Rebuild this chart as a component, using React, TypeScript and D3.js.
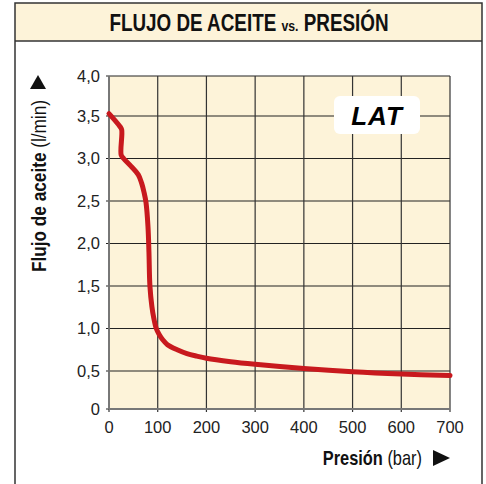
import React from "react";
import * as d3 from "d3";

const pressure = [0, 22, 26, 25, 30, 45, 60, 67, 72, 76, 80, 82, 84, 88, 92, 97, 103, 110, 120, 140, 160, 180, 200, 250, 300, 400, 500, 600, 700];
const flow = [3.53, 3.38, 3.34, 3.04, 3.0, 2.91, 2.81, 2.71, 2.6, 2.48, 2.2, 1.9, 1.5, 1.26, 1.12, 1.0, 0.93, 0.87, 0.81, 0.75, 0.705, 0.675, 0.65, 0.61, 0.58, 0.53, 0.49, 0.46, 0.44];
const xTicks = [0, 100, 200, 300, 400, 500, 600, 700];
const yTicks = [0, 0.5, 1, 1.5, 2, 2.5, 3, 3.5, 4];
const yTickLabels = ["0", "0,5", "1,0", "1,5", "2,0", "2,5", "3,0", "3,5", "4,0"];

const W = 486;
const H = 484;
const BEIGE = "#fdf3d9";
const RED = "#c8191e";
const SANS = "'Liberation Sans', Arial, Helvetica, sans-serif";
const NARROW_SCALE = 0.82;

export default function App() {
  const x = d3.scaleLinear().domain([0, 700]).range([109, 450]);
  const y = d3.scaleLinear().domain([0, 0.5, 3.5, 4]).range([409, 371, 116, 76]);
  const pts: [number, number][] = pressure.map((p, i) => [p, flow[i]]);
  const line = d3
    .line<[number, number]>()
    .x((d) => x(d[0]))
    .y((d) => y(d[1]))
    .curve(d3.curveCatmullRom.alpha(0.5));

  const x0 = x(0), x1 = x(700), y0 = y(0), y1 = y(4);

  return (
    <svg width={W} height={H} style={{ position: "absolute", left: 0, top: 0 }}>
      <rect x={0} y={0} width={W} height={H} fill="#fff" />
      {/* outer frame */}
      <rect x={15} y={3} width={467} height={38} fill={BEIGE} />
      <path d={`M15,${H + 5} L15,3 L482,3 L482,${H + 5}`} fill="none" stroke="#333" strokeWidth={1.5} />
      <line x1={15} x2={482} y1={41} y2={41} stroke="#333" strokeWidth={1.5} />
      <text transform={`translate(249,31) scale(${NARROW_SCALE},1)`} textAnchor="middle" fontFamily={SANS} fontWeight="bold" fontSize={23} fill="#111">
        FLUJO DE ACEITE <tspan fontSize={15}>vs.</tspan> PRESIÓN
      </text>

      {/* plot */}
      <rect x={x0} y={y1} width={x1 - x0} height={y0 - y1} fill={BEIGE} />
      {yTicks.map((t) => (
        <line key={"h" + t} x1={x0 - 3} x2={x1} y1={y(t)} y2={y(t)} stroke="#222" strokeWidth={1.1} />
      ))}
      {xTicks.map((t) => (
        <line key={"v" + t} x1={x(t)} x2={x(t)} y1={y1} y2={y0 + 3} stroke="#333" strokeWidth={1.2} />
      ))}
      <line x1={x0} x2={x0} y1={y1} y2={y0} stroke="#777" strokeWidth={1.8} />
      <line x1={x0} x2={x1} y1={y0} y2={y0} stroke="#777" strokeWidth={1.8} />

      <path d={line(pts) || ""} fill="none" stroke={RED} strokeWidth={5} strokeLinecap="round" strokeLinejoin="round" />

      {/* LAT box */}
      <rect x={334} y={96} width={86} height={38} rx={6} fill="#fff" />
      <text x={377} y={125} textAnchor="middle" fontFamily={SANS} fontWeight="bold" fontStyle="italic" fontSize={26} letterSpacing={1} fill="#000">
        LAT
      </text>

      {/* y tick labels */}
      {yTicks.map((t, i) => (
        <text key={"yl" + t} x={100} y={y(t)} dy="0.36em" textAnchor="end" fontFamily={SANS} fontSize={16.5} fill="#222">
          {yTickLabels[i]}
        </text>
      ))}
      {/* x tick labels */}
      {xTicks.map((t) => (
        <text key={"xl" + t} x={x(t)} y={433} textAnchor="middle" fontFamily={SANS} fontSize={16.5} fill="#222">
          {t}
        </text>
      ))}

      {/* axis titles */}
      <text transform={`translate(422,465) scale(${NARROW_SCALE},1)`} textAnchor="end" fontFamily={SANS} fontSize={20} fill="#111">
        <tspan fontWeight="bold">Presión</tspan> (bar)
      </text>
      <path d="M433,450 L450,458 L433,466 Z" fill="#111" />

      <text transform={`translate(46,186) rotate(-90) scale(0.86,1)`} textAnchor="middle" fontFamily={SANS} fontSize={20} fill="#111">
        <tspan fontWeight="bold">Flujo de aceite</tspan> (l/min)
      </text>
      <path d="M30,89 L38,75 L46,89 Z" fill="#111" />
    </svg>
  );
}
